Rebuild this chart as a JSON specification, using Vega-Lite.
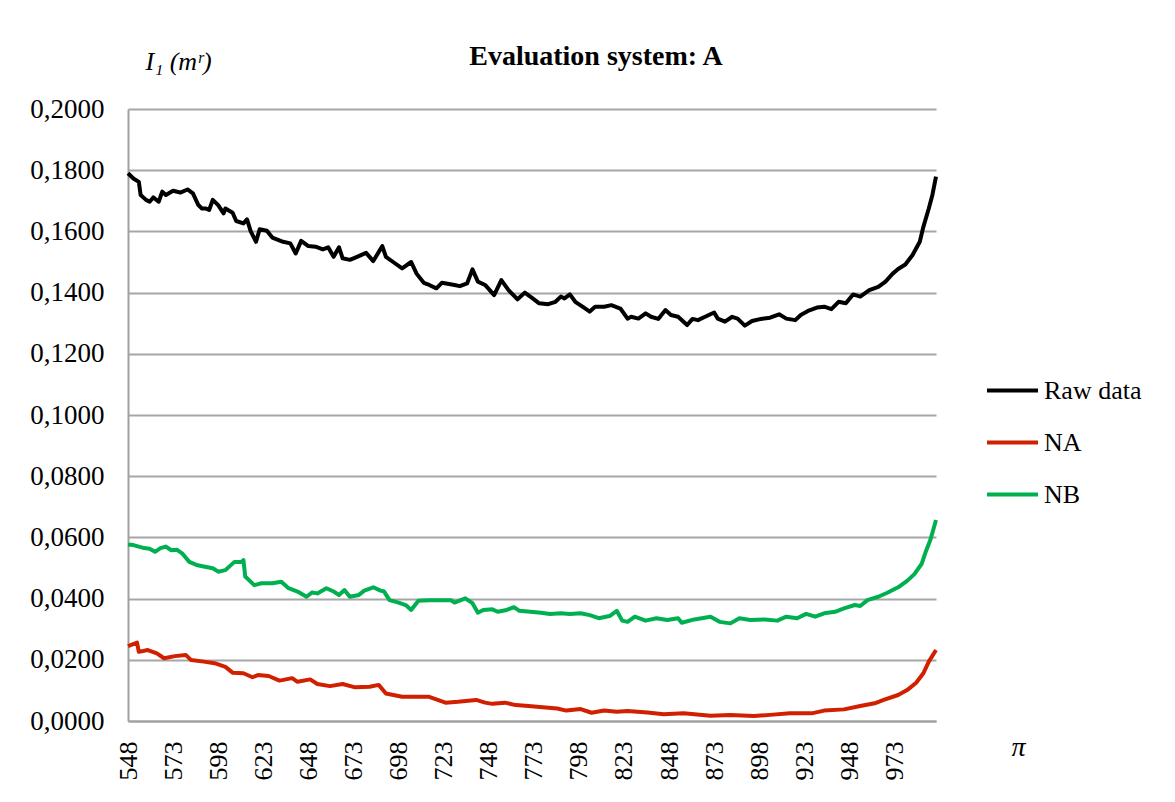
{
  "$schema": "https://vega.github.io/schema/vega-lite/v6.json",
  "autosize": {"type": "none"},
  "padding": {"left": 128, "top": 109, "right": 239, "bottom": 81},
  "width": 808,
  "height": 612,
  "background": "white",
  "title": {"text": "Evaluation system: A", "font": "Liberation Serif", "fontSize": 28, "fontWeight": "bold", "color": "black", "anchor": "middle", "dx": 64, "offset": -23},
  "datasets": {
    "raw": [
      {"x":548,"y":0.179},{"x":551,"y":0.1773},{"x":554,"y":0.1762},{"x":555,"y":0.1719},{"x":558,"y":0.1703},{"x":560,"y":0.1697},{"x":562,"y":0.1711},{"x":565,"y":0.1697},{"x":567,"y":0.173},{"x":569,"y":0.1719},{"x":573,"y":0.1733},{"x":577,"y":0.1727},{"x":581,"y":0.1737},{"x":584,"y":0.1724},{"x":587,"y":0.1686},{"x":589,"y":0.1675},{"x":591,"y":0.1675},{"x":593,"y":0.167},{"x":595,"y":0.1703},{"x":598,"y":0.1686},{"x":601,"y":0.1659},{"x":602,"y":0.1675},{"x":606,"y":0.1661},{"x":608,"y":0.1634},{"x":612,"y":0.1626},{"x":614,"y":0.1639},{"x":616,"y":0.1601},{"x":619,"y":0.1566},{"x":621,"y":0.1607},{"x":625,"y":0.1602},{"x":628,"y":0.158},{"x":634,"y":0.1566},{"x":638,"y":0.1561},{"x":641,"y":0.1528},{"x":644,"y":0.1569},{"x":648,"y":0.1552},{"x":652,"y":0.155},{"x":656,"y":0.1541},{"x":659,"y":0.1548},{"x":662,"y":0.1517},{"x":665,"y":0.1548},{"x":667,"y":0.1512},{"x":671,"y":0.1507},{"x":675,"y":0.1517},{"x":680,"y":0.153},{"x":684,"y":0.1503},{"x":689,"y":0.1552},{"x":691,"y":0.1517},{"x":695,"y":0.15},{"x":700,"y":0.1479},{"x":705,"y":0.15},{"x":708,"y":0.1462},{"x":712,"y":0.1432},{"x":715,"y":0.1425},{"x":719,"y":0.1414},{"x":722,"y":0.1432},{"x":726,"y":0.1428},{"x":729,"y":0.1425},{"x":732,"y":0.1421},{"x":736,"y":0.143},{"x":739,"y":0.1476},{"x":742,"y":0.1436},{"x":746,"y":0.1425},{"x":751,"y":0.1392},{"x":755,"y":0.1441},{"x":759,"y":0.1408},{"x":764,"y":0.1378},{"x":768,"y":0.14},{"x":772,"y":0.1383},{"x":776,"y":0.1365},{"x":781,"y":0.1362},{"x":785,"y":0.137},{"x":788,"y":0.1387},{"x":790,"y":0.1381},{"x":793,"y":0.1394},{"x":796,"y":0.137},{"x":800,"y":0.1354},{"x":804,"y":0.1338},{"x":807,"y":0.1354},{"x":812,"y":0.1354},{"x":816,"y":0.1359},{"x":821,"y":0.1348},{"x":825,"y":0.1315},{"x":827,"y":0.1321},{"x":831,"y":0.1315},{"x":835,"y":0.1332},{"x":838,"y":0.1321},{"x":842,"y":0.1314},{"x":846,"y":0.1343},{"x":849,"y":0.1327},{"x":853,"y":0.1321},{"x":858,"y":0.1294},{"x":861,"y":0.1314},{"x":864,"y":0.131},{"x":868,"y":0.1321},{"x":873,"y":0.1335},{"x":875,"y":0.1315},{"x":879,"y":0.1305},{"x":883,"y":0.1321},{"x":886,"y":0.1315},{"x":890,"y":0.1292},{"x":894,"y":0.1307},{"x":899,"y":0.1314},{"x":904,"y":0.1318},{"x":909,"y":0.1329},{"x":913,"y":0.1315},{"x":918,"y":0.131},{"x":921,"y":0.1327},{"x":925,"y":0.134},{"x":930,"y":0.1351},{"x":934,"y":0.1354},{"x":938,"y":0.1346},{"x":942,"y":0.137},{"x":946,"y":0.1365},{"x":950,"y":0.1394},{"x":954,"y":0.1387},{"x":959,"y":0.1408},{"x":964,"y":0.1419},{"x":968,"y":0.1436},{"x":972,"y":0.1462},{"x":975,"y":0.1477},{"x":979,"y":0.1492},{"x":983,"y":0.1523},{"x":987,"y":0.1566},{"x":989,"y":0.1615},{"x":992,"y":0.1675},{"x":994,"y":0.1719},{"x":996,"y":0.1779}
    ],
    "na": [
      {"x":548,"y":0.0245},{"x":553,"y":0.0256},{"x":554,"y":0.0226},{"x":559,"y":0.0232},{"x":564,"y":0.0221},{"x":568,"y":0.0205},{"x":574,"y":0.0212},{"x":580,"y":0.0216},{"x":583,"y":0.0199},{"x":590,"y":0.0194},{"x":596,"y":0.0189},{"x":602,"y":0.0177},{"x":606,"y":0.0158},{"x":612,"y":0.0156},{"x":617,"y":0.0143},{"x":620,"y":0.015},{"x":626,"y":0.0147},{"x":632,"y":0.0132},{"x":639,"y":0.014},{"x":642,"y":0.0128},{"x":649,"y":0.0136},{"x":653,"y":0.0121},{"x":660,"y":0.0114},{"x":667,"y":0.0121},{"x":674,"y":0.011},{"x":682,"y":0.0112},{"x":687,"y":0.0118},{"x":691,"y":0.009},{"x":700,"y":0.0079},{"x":707,"y":0.0079},{"x":715,"y":0.0079},{"x":724,"y":0.006},{"x":731,"y":0.0063},{"x":741,"y":0.0069},{"x":746,"y":0.006},{"x":750,"y":0.0056},{"x":757,"y":0.006},{"x":763,"y":0.0052},{"x":770,"y":0.0049},{"x":778,"y":0.0045},{"x":786,"y":0.0041},{"x":791,"y":0.0034},{"x":799,"y":0.0039},{"x":805,"y":0.0027},{"x":812,"y":0.0034},{"x":819,"y":0.003},{"x":825,"y":0.0033},{"x":836,"y":0.0028},{"x":845,"y":0.0022},{"x":856,"y":0.0025},{"x":871,"y":0.0017},{"x":882,"y":0.002},{"x":895,"y":0.0016},{"x":904,"y":0.002},{"x":915,"y":0.0025},{"x":927,"y":0.0025},{"x":934,"y":0.0034},{"x":945,"y":0.0038},{"x":954,"y":0.0049},{"x":962,"y":0.0058},{"x":967,"y":0.0069},{"x":975,"y":0.0085},{"x":980,"y":0.0101},{"x":985,"y":0.0125},{"x":989,"y":0.0156},{"x":992,"y":0.0194},{"x":996,"y":0.0232}
    ],
    "nb": [
      {"x":548,"y":0.0577},{"x":551,"y":0.0575},{"x":554,"y":0.057},{"x":557,"y":0.0565},{"x":560,"y":0.0563},{"x":563,"y":0.0553},{"x":566,"y":0.0565},{"x":569,"y":0.057},{"x":572,"y":0.0558},{"x":575,"y":0.056},{"x":578,"y":0.0548},{"x":582,"y":0.052},{"x":586,"y":0.051},{"x":590,"y":0.0505},{"x":595,"y":0.0499},{"x":598,"y":0.0488},{"x":602,"y":0.0493},{"x":607,"y":0.052},{"x":611,"y":0.052},{"x":612,"y":0.0526},{"x":613,"y":0.0472},{"x":618,"y":0.0444},{"x":622,"y":0.045},{"x":628,"y":0.045},{"x":633,"y":0.0455},{"x":637,"y":0.0434},{"x":642,"y":0.0423},{"x":647,"y":0.0406},{"x":650,"y":0.042},{"x":653,"y":0.0417},{"x":658,"y":0.0434},{"x":662,"y":0.0423},{"x":665,"y":0.0412},{"x":668,"y":0.0428},{"x":671,"y":0.0406},{"x":676,"y":0.0412},{"x":679,"y":0.0426},{"x":684,"y":0.0437},{"x":688,"y":0.0426},{"x":690,"y":0.0423},{"x":693,"y":0.0395},{"x":698,"y":0.0387},{"x":702,"y":0.0379},{"x":705,"y":0.0363},{"x":709,"y":0.0393},{"x":715,"y":0.0395},{"x":722,"y":0.0395},{"x":727,"y":0.0395},{"x":729,"y":0.0387},{"x":735,"y":0.0401},{"x":739,"y":0.0385},{"x":742,"y":0.0354},{"x":745,"y":0.0363},{"x":750,"y":0.0365},{"x":753,"y":0.0357},{"x":758,"y":0.0363},{"x":762,"y":0.0372},{"x":765,"y":0.036},{"x":771,"y":0.0357},{"x":777,"y":0.0354},{"x":782,"y":0.035},{"x":788,"y":0.0352},{"x":793,"y":0.035},{"x":799,"y":0.0352},{"x":804,"y":0.0346},{"x":809,"y":0.0336},{"x":815,"y":0.0343},{"x":819,"y":0.036},{"x":822,"y":0.0328},{"x":825,"y":0.0324},{"x":829,"y":0.0341},{"x":835,"y":0.0328},{"x":841,"y":0.0336},{"x":847,"y":0.033},{"x":853,"y":0.0336},{"x":855,"y":0.0321},{"x":862,"y":0.0332},{"x":871,"y":0.0341},{"x":876,"y":0.0324},{"x":882,"y":0.0319},{"x":887,"y":0.0336},{"x":893,"y":0.033},{"x":901,"y":0.0332},{"x":908,"y":0.0328},{"x":913,"y":0.0341},{"x":919,"y":0.0336},{"x":924,"y":0.035},{"x":929,"y":0.0341},{"x":934,"y":0.0352},{"x":940,"y":0.0357},{"x":945,"y":0.0368},{"x":951,"y":0.0379},{"x":954,"y":0.0376},{"x":958,"y":0.0395},{"x":964,"y":0.0406},{"x":969,"y":0.0419},{"x":975,"y":0.0437},{"x":980,"y":0.0458},{"x":984,"y":0.048},{"x":988,"y":0.0513},{"x":990,"y":0.0548},{"x":993,"y":0.0594},{"x":996,"y":0.0657}
    ]
  },
  "data": {"name": "raw"},
  "layer": [
    {
      "data": {"name": "raw"},
      "transform": [{"calculate": "'Raw data'", "as": "series"}],
      "mark": {"type": "line", "strokeWidth": 4, "strokeJoin": "round"},
      "encoding": {
        "x": {"field": "x", "type": "quantitative"},
        "y": {"field": "y", "type": "quantitative"},
        "color": {"field": "series", "type": "nominal"}
      }
    },
    {
      "data": {"name": "na"},
      "transform": [{"calculate": "'NA'", "as": "series"}],
      "mark": {"type": "line", "strokeWidth": 4, "strokeJoin": "round"},
      "encoding": {
        "x": {"field": "x", "type": "quantitative"},
        "y": {"field": "y", "type": "quantitative"},
        "color": {"field": "series", "type": "nominal"}
      }
    },
    {
      "data": {"name": "nb"},
      "transform": [{"calculate": "'NB'", "as": "series"}],
      "mark": {"type": "line", "strokeWidth": 4, "strokeJoin": "round"},
      "encoding": {
        "x": {"field": "x", "type": "quantitative"},
        "y": {"field": "y", "type": "quantitative"},
        "color": {"field": "series", "type": "nominal"}
      }
    }
  ],
  "resolve": {"scale": {"x": "shared", "y": "shared", "color": "shared"}},
  "encoding": {
    "x": {
      "field": "x", "type": "quantitative",
      "scale": {"domain": [548, 996], "nice": false, "zero": false},
      "axis": {
        "title": "π", "titleFont": "Liberation Serif", "titleFontStyle": "italic", "titleFontWeight": "normal", "titleFontSize": 28, "titleColor": "black",
        "titleAngle": 0, "titleX": 890, "titleY": 26, "titleAlign": "center", "titleBaseline": "middle",
        "values": [548, 573, 598, 623, 648, 673, 698, 723, 748, 773, 798, 823, 848, 873, 898, 923, 948, 973],
        "labelAngle": 270, "labelAlign": "right", "labelBaseline": "middle", "labelPadding": 20,
        "labelFont": "Liberation Serif", "labelFontSize": 26, "labelColor": "black",
        "ticks": false, "grid": false, "domainColor": "#a0a0a0", "domainWidth": 2, "labelOverlap": false, "labelFlush": false
      }
    },
    "y": {
      "field": "y", "type": "quantitative",
      "scale": {"domain": [0, 0.2], "nice": false},
      "axis": {
        "title": "I₁ (mʳ)", "titleFont": "Liberation Serif", "titleFontStyle": "italic", "titleFontWeight": "normal", "titleFontSize": 26, "titleColor": "black",
        "titleAngle": 0, "titleX": 17, "titleY": -48, "titleAlign": "left", "titleBaseline": "middle",
        "values": [0, 0.02, 0.04, 0.06, 0.08, 0.1, 0.12, 0.14, 0.16, 0.18, 0.2],
        "labelExpr": "replace(format(datum.value, '.4f'), '.', ',')",
        "labelFont": "Liberation Serif", "labelFontSize": 27, "labelColor": "black", "labelPadding": 24,
        "ticks": false, "grid": true, "gridColor": "#a6a6a6", "gridWidth": 2, "domainColor": "#a0a0a0", "domainWidth": 2
      }
    },
    "color": {
      "field": "series", "type": "nominal",
      "scale": {"domain": ["Raw data", "NA", "NB"], "range": ["#000000", "#d02000", "#00b050"]},
      "legend": {
        "title": null, "orient": "none", "legendX": 857, "legendY": 254,
        "symbolType": "stroke", "symbolSize": 2600, "symbolStrokeWidth": 4,
        "labelFont": "Liberation Serif", "labelFontSize": 26, "labelColor": "black", "labelOffset": 4, "rowPadding": 11
      }
    }
  },
  "config": {"view": {"stroke": null}}
}
